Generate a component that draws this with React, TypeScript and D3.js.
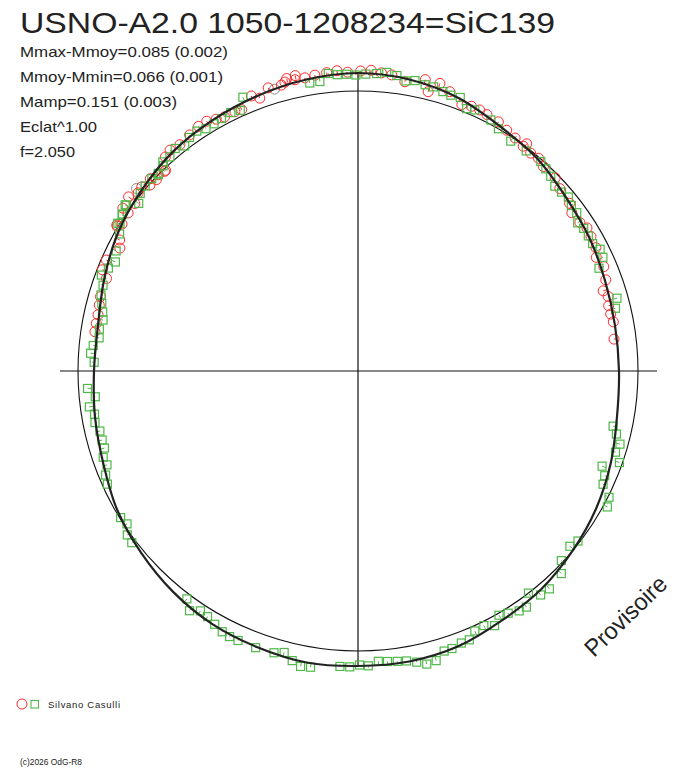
import React from "react";
import * as d3 from "d3";

// ---- data (phase in degrees, clockwise from top; magnitude offset from mean, in millimag-like units) ----
const curvePhase = [0, 10, 20, 30, 40, 50, 60, 70, 80, 90, 100, 110, 120, 130, 140, 150, 160, 170, 180, 190, 200, 210, 220, 230, 240, 250, 260, 270, 280, 290, 300, 310, 320, 330, 340, 350];
const curveMag = [72, 64, 44, 12, -8, -36, -52, -68, -76, -76, -68, -44, -20, 0, 20, 32, 52, 60, 60, 64, 56, 48, 32, 12, -8, -36, -52, -64, -64, -40, -12, 8, 28, 40, 52, 64];

const redPhase = [278.5, 280.3, 282.2, 284.3, 286.1, 290.2, 291.6, 293.8, 297.3, 298.8, 301.0, 301.9, 301.2, 304.5, 304.7, 306.9, 307.2, 309.0, 310.4, 311.8, 312.8, 313.5, 314.5, 315.9, 316.2, 318.0, 319.6, 321.8, 324.5, 326.9, 328.8, 330.6, 332.3, 334.6, 336.0, 338.8, 340.2, 342.4, 345.0, 345.8, 346.3, 347.8, 348.0, 349.7, 351.7, 354.0, 356.0, 358.0, 0.5, 2.5, 4.5, 6.5, 9.2, 13.0, 14.1, 15.9, 18.2, 21.3, 23.2, 25.0, 26.7, 29.4, 31.7, 34.0, 36.3, 36.6, 38.4, 40.3, 42.2, 45.6, 47.9, 51.6, 53.5, 56.2, 58.0, 60.0, 62.6, 64.5, 67.0, 69.8, 71.9, 73.4, 75.4, 77.3, 79.1, 82.9];
const redMag = [-56, -56, -56, -52, -48, -48, -20, -20, -48, -32, 4, -8, 8, -4, 24, -4, 32, 12, 16, -4, 12, -8, 0, -8, -8, 32, 40, 32, 40, 48, 48, 36, 28, 28, 24, 60, 40, 68, 64, 72, 84, 72, 88, 72, 76, 80, 84, 76, 80, 84, 76, 72, 52, 76, 32, 76, 56, 24, 32, 32, 28, 24, 12, 4, -4, 12, -8, -4, -16, -16, -32, -40, -56, -52, -40, -44, -48, -64, -52, -64, -88, -76, -84, -84, -80, -88];

const greenPhase = [102.2, 103.7, 105.6, 107.5, 109.3, 111.3, 113.0, 114.8, 116.7, 118.6, 127.7, 129.6, 133.0, 134.9, 138.7, 140.8, 142.5, 144.5, 146.1, 148.2, 150.0, 151.8, 153.7, 155.8, 157.5, 159.2, 161.3, 162.9, 164.9, 166.8, 168.6, 170.5, 172.3, 174.2, 176.0, 178.0, 179.7, 181.6, 183.5, 189.1, 191.0, 192.8, 194.7, 196.6, 200.3, 204.0, 205.8, 207.5, 209.5, 211.5, 213.3, 215.1, 216.9, 232.8, 234.6, 236.5, 238.3, 245.7, 247.6, 249.5, 251.3, 253.1, 254.9, 256.9, 258.9, 260.7, 262.4, 264.4, 266.3, 271.9, 273.8, 275.5, 277.3, 279.2, 281.3, 283.0, 284.8, 286.5, 288.6, 290.5, 292.4, 294.2, 296.4, 299.9, 301.6, 301.8, 303.5, 303.7, 305.5, 305.6, 307.4, 309.2, 311.0, 313.0, 314.5, 314.7, 316.5, 317.0, 318.7, 320.6, 322.4, 324.2, 326.1, 327.9, 329.8, 331.6, 333.8, 335.7, 337.2, 350.5, 352.5, 354.3, 356.0, 357.8, 359.6, 1.5, 3.6, 5.5, 7.5, 9.4, 11.1, 13.2, 14.9, 16.9, 18.6, 20.5, 22.5, 24.1, 27.9, 30.1, 33.6, 37.4, 41.1, 42.9, 44.7, 46.8, 48.7, 50.4, 52.2, 54.1, 56.0, 57.7, 59.6, 61.5, 63.3, 65.1, 66.9, 74.3, 76.3];
const greenMag = [-76, -56, -32, -40, -12, -72, -48, -40, 4, 16, -8, -20, -8, 28, 40, 36, 0, 40, 36, 20, 8, 36, 16, 20, 44, 44, 52, 52, 80, 84, 68, 56, 52, 48, 44, 60, 56, 64, 64, 80, 84, 68, 44, 56, 60, 60, 60, 56, 44, 32, 28, 52, 20, 16, 12, -12, -4, -20, -28, -48, -44, -60, -60, -60, -48, -52, -36, -64, -36, -64, -48, -56, -76, -72, -80, -72, -60, -48, -44, -24, -40, -56, -40, -20, 8, 0, 12, 12, 24, 20, -16, 4, 8, 8, 0, 4, 12, 24, 20, 32, 16, 32, 36, 24, 24, 28, 32, 24, 68, 48, 48, 76, 68, 68, 64, 68, 72, 80, 72, 56, 64, 56, 56, 48, 44, 48, 16, 24, 16, 0, -16, -12, -8, -16, -24, -40, -36, -28, -40, -40, -60, -52, -52, -52, -36, -40, -72, -44, -60];

const grayPhase = [309.5, 343.5];
const grayMag = [28, 56];

const titleText = "USNO-A2.0 1050-1208234=SiC139";
const infoLines = ["Mmax-Mmoy=0.085 (0.002)", "Mmoy-Mmin=0.066 (0.001)", "Mamp=0.151 (0.003)", "Eclat^1.00", "f=2.050"];
const infoWidths = [208, 203, 157, 77, 55];
const observer = "Silvano Casulli";
const copyright = "(c)2026 OdG-R8";
const stamp = "Provisoire";

// ---- layout ----
const W = 688;
const H = 768;
const cx = 358;
const cy = 371;
const FONT = "'Liberation Sans', Arial, sans-serif";
const RED = "#ff2a2a";
const GREEN = "#4fb848";
const GRAY = "#8a8a8a";

const angle = d3.scaleLinear().domain([0, 360]).range([0, 2 * Math.PI]);
const rScale = d3.scaleLinear().domain([0, 100]).range([280, 305]);
const curveAt = d3
  .scaleLinear()
  .domain([...curvePhase, 360])
  .range([...curveMag, curveMag[0]]);

function pos(phase: number, mag: number) {
  const a = angle(phase);
  const r = rScale(mag);
  return { x: cx + r * Math.sin(a), y: cy - r * Math.cos(a), a, r };
}

function tick(phase: number, mag: number) {
  const p = pos(phase, mag);
  const rc = rScale(curveAt(phase));
  let d = rc - p.r;
  const s = d >= 0 ? 1 : -1;
  d = s * Math.max(2, Math.min(Math.abs(d), 4));
  return {
    x1: p.x,
    y1: p.y,
    x2: p.x + d * Math.sin(p.a),
    y2: p.y - d * Math.cos(p.a),
  };
}

export default function App() {
  const line = d3
    .lineRadial<number>()
    .angle((_d, i) => angle(curvePhase[i]))
    .radius((d) => rScale(d))
    .curve(d3.curveCatmullRomClosed);
  const curvePath = line(curveMag) || "";

  return (
    <svg
      width={W}
      height={H}
      viewBox={`0 0 ${W} ${H}`}
      style={{ position: "absolute", left: 0, top: 0, background: "#fff" }}
    >
      <rect x={0} y={0} width={W} height={H} fill="#fff" />
      {/* title and info */}
      <text x={20} y={33} fontFamily={FONT} fontSize={30} fill="#222" textLength={535} lengthAdjust="spacingAndGlyphs">
        {titleText}
      </text>
      {infoLines.map((t, i) => (
        <text
          key={t}
          x={20}
          y={57 + i * 25}
          fontFamily={FONT}
          fontSize={14.5}
          fill="#222"
          textLength={infoWidths[i]}
          lengthAdjust="spacingAndGlyphs"
        >
          {t}
        </text>
      ))}

      {/* reference circle and axes */}
      <circle cx={cx} cy={cy} r={rScale(0)} fill="none" stroke="#111" strokeWidth={1.1} />
      <line x1={cx - 298} y1={cy} x2={cx + 299} y2={cy} stroke="#111" strokeWidth={1.2} />
      <line x1={cx} y1={cy - 298} x2={cx} y2={cy + 294} stroke="#111" strokeWidth={1.2} />

      {/* gray points */}
      {grayPhase.map((ph, i) => {
        const p = pos(ph, grayMag[i]);
        return <circle key={"g" + i} cx={p.x} cy={p.y} r={5} fill="none" stroke={GRAY} strokeWidth={1} />;
      })}

      {/* red circles */}
      {redPhase.map((ph, i) => {
        const p = pos(ph, redMag[i]);
        const t = tick(ph, redMag[i]);
        return (
          <g key={"r" + i}>
            <circle cx={p.x} cy={p.y} r={5} fill="none" stroke={RED} strokeWidth={1} />
            <line x1={t.x1} y1={t.y1} x2={t.x2} y2={t.y2} stroke={RED} strokeWidth={1} />
          </g>
        );
      })}

      {/* green squares */}
      {greenPhase.map((ph, i) => {
        const p = pos(ph, greenMag[i]);
        const t = tick(ph, greenMag[i]);
        return (
          <g key={"s" + i}>
            <rect x={p.x - 4} y={p.y - 4} width={8} height={8} fill="none" stroke={GREEN} strokeWidth={1.2} />
            <line x1={t.x1} y1={t.y1} x2={t.x2} y2={t.y2} stroke={GREEN} strokeWidth={1} />
          </g>
        );
      })}

      {/* fitted curve */}
      <path d={curvePath} transform={`translate(${cx},${cy})`} fill="none" stroke="#222" strokeWidth={2.2} />

      {/* legend */}
      <circle cx={22} cy={704} r={5} fill="none" stroke={RED} strokeWidth={1} />
      <rect x={31} y={700.5} width={7.5} height={7.5} fill="none" stroke={GREEN} strokeWidth={1.1} />
      <text x={48} y={708} fontFamily={FONT} fontSize={9.5} fill="#222" textLength={72} lengthAdjust="spacing">
        {observer}
      </text>
      <text x={20} y={765} fontFamily={FONT} fontSize={9} fill="#222" textLength={62} lengthAdjust="spacingAndGlyphs">
        {copyright}
      </text>

      {/* stamp */}
      <text
        x={0}
        y={0}
        transform="translate(594,658) rotate(-44)"
        fontFamily={FONT}
        fontSize={24}
        fill="#222"
        textLength={104}
        lengthAdjust="spacingAndGlyphs"
      >
        {stamp}
      </text>
    </svg>
  );
}
